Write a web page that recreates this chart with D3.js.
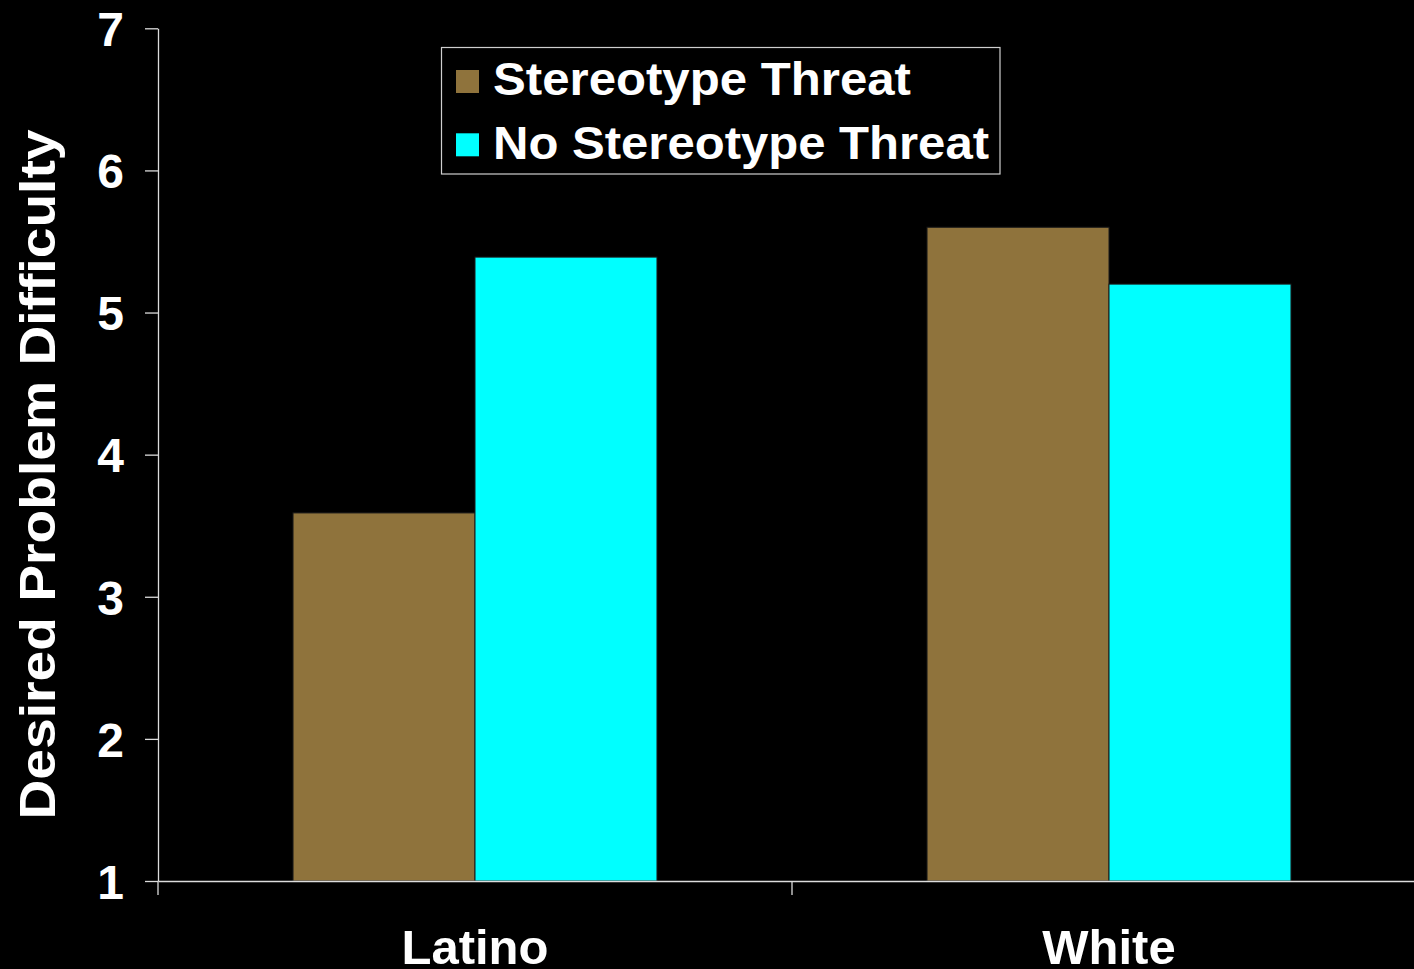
<!DOCTYPE html>
<html>
<head>
<meta charset="utf-8">
<script src="https://cdn.jsdelivr.net/npm/d3@7"></script>
<style>
  html, body { margin: 0; padding: 0; background: #000; overflow: hidden; }
  svg { display: block; }
  text { font-family: "Liberation Sans", Arial, Helvetica, sans-serif; font-weight: bold; fill: #fff; }
</style>
</head>
<body>
<svg id="chart" width="1414" height="969"></svg>
<script>
// Mean desired problem difficulty by group and condition
const categories = ["Latino", "White"];
const seriesNames = ["Stereotype Threat", "No Stereotype Threat"];
const stereotypeThreat = [3.59, 5.6];
const noStereotypeThreat = [5.39, 5.2];
const yTicks = [1, 2, 3, 4, 5, 6, 7];
const seriesColors = ["#8F733C", "#00FFFF"];

const rows = categories.map((c, i) => ({
  category: c,
  values: [stereotypeThreat[i], noStereotypeThreat[i]]
}));

const W = 1414, H = 969;
const plotLeft = 158, plotTop = 28.3, plotBottom = 881, plotRight = 1426;
const axisColor = "#dcdcdc";

const svg = d3.select("#chart");
svg.append("rect").attr("width", W).attr("height", H).attr("fill", "#000");

const x0 = d3.scaleBand().domain(categories).range([plotLeft, plotRight]).paddingInner(0).paddingOuter(0);
const x1 = d3.scaleBand().domain(seriesNames).range([0, x0.bandwidth()]).paddingInner(0).paddingOuter(0.742);
const y = d3.scaleLinear().domain([1, 7]).range([plotBottom, plotTop]);
const color = d3.scaleOrdinal().domain(seriesNames).range(seriesColors);

// Bars
const groups = svg.append("g").selectAll("g")
  .data(rows).join("g")
  .attr("transform", d => `translate(${x0(d.category)},0)`);

groups.selectAll("rect")
  .data(d => d.values.map((v, k) => ({ key: seriesNames[k], value: v })))
  .join("rect")
  .attr("x", d => x1(d.key))
  .attr("width", x1.bandwidth())
  .attr("y", d => y(d.value))
  .attr("height", d => y(1) - y(d.value))
  .attr("fill", d => color(d.key))
  .attr("stroke", "#1a1a1a")
  .attr("stroke-width", 1);

// Y axis
const yAxis = svg.append("g")
  .attr("transform", `translate(${plotLeft},0)`)
  .call(d3.axisLeft(y).tickValues(yTicks).tickFormat(d3.format("d")).tickSize(13).tickSizeOuter(0).tickPadding(21));
yAxis.select(".domain").attr("stroke", axisColor).attr("stroke-width", 1.3);
yAxis.selectAll(".tick line").attr("stroke", axisColor).attr("stroke-width", 1.3);
yAxis.selectAll(".tick text")
  .attr("fill", "#fff")
  .attr("font-size", 48)
  .attr("font-family", '"Liberation Sans", Arial, sans-serif')
  .attr("font-weight", "bold")
  .attr("dy", "0.36em");

// X axis: baseline plus category boundary ticks
const xAxis = svg.append("g")
  .attr("transform", `translate(0,${plotBottom})`)
  .call(d3.axisBottom(x0).tickSize(0).tickSizeOuter(0).tickFormat(""));
xAxis.select(".domain").attr("stroke", axisColor).attr("stroke-width", 1.3);
xAxis.selectAll(".tick").remove();

svg.append("g").selectAll("line")
  .data(categories)
  .join("line")
  .attr("x1", d => x0(d)).attr("x2", d => x0(d))
  .attr("y1", plotBottom).attr("y2", plotBottom + 14)
  .attr("stroke", axisColor).attr("stroke-width", 1.3);

// Category labels
svg.append("g").selectAll("text")
  .data(categories)
  .join("text")
  .attr("x", d => x0(d) + x0.bandwidth() / 2)
  .attr("y", 963.5)
  .attr("text-anchor", "middle")
  .attr("font-size", 49)
  .text(d => d);

// Y axis title
svg.append("text")
  .attr("transform", "translate(55,474.5) rotate(-90)")
  .attr("text-anchor", "middle")
  .attr("font-size", 50)
  .attr("textLength", 690)
  .attr("lengthAdjust", "spacingAndGlyphs")
  .text("Desired Problem Difficulty");

// Legend
const legend = svg.append("g");
legend.append("rect")
  .attr("x", 441.5).attr("y", 47.5)
  .attr("width", 558.5).attr("height", 126.5)
  .attr("fill", "#000")
  .attr("stroke", "#cfcfcf").attr("stroke-width", 1.2);

const legendLengths = [418, 496];
const legendRows = legend.selectAll("g.item")
  .data(seriesNames)
  .join("g")
  .attr("class", "item")
  .attr("transform", (d, i) => `translate(0,${i * 63.3})`);

legendRows.append("rect")
  .attr("x", 456).attr("y", 70)
  .attr("width", 23).attr("height", 23)
  .attr("fill", d => color(d));

legendRows.append("text")
  .attr("x", 493).attr("y", 95.3)
  .attr("font-size", 46)
  .attr("textLength", (d, i) => legendLengths[i])
  .attr("lengthAdjust", "spacingAndGlyphs")
  .text(d => d);
</script>
</body>
</html>
